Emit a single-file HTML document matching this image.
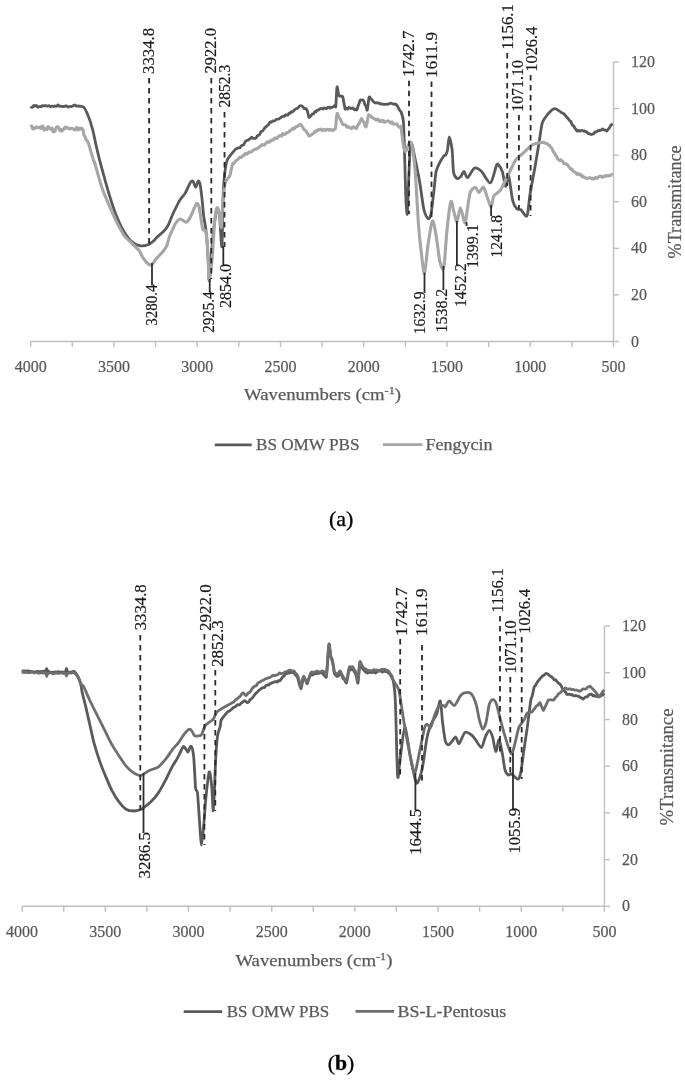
<!DOCTYPE html>
<html><head><meta charset="utf-8"><style>
html,body{margin:0;padding:0;background:#fff;}
body{width:685px;height:1080px;overflow:hidden;position:relative;}
svg{position:absolute;left:0;top:0;filter:blur(0.7px);}
.ax{font-family:"Liberation Serif",serif;font-size:17.5px;fill:#595959;stroke:#595959;stroke-width:0.25px;}
.yl{font-size:18.5px;}
.lbs{font-family:"Liberation Sans",sans-serif;font-size:14px;fill:#222;}
.lbr{font-family:"Liberation Serif",serif;font-size:16.5px;fill:#1a1a1a;stroke:#1a1a1a;stroke-width:0.2px;}
.leg{font-family:"Liberation Serif",serif;font-size:16px;fill:#595959;stroke:#595959;stroke-width:0.25px;}
.ttl{font-family:"Liberation Serif",serif;font-size:17px;fill:#595959;stroke:#595959;stroke-width:0.25px;}
.cap{font-family:"Liberation Serif",serif;font-size:21px;fill:#000;stroke:#000;stroke-width:0.3px;}
</style></head><body>
<svg width="685" height="1080" viewBox="0 0 685 1080">
<line x1="30.7" y1="341.5" x2="613.5" y2="341.5" stroke="#bfbfbf" stroke-width="1.4"/>
<line x1="30.7" y1="341.5" x2="30.7" y2="347.0" stroke="#bfbfbf" stroke-width="1.4"/>
<line x1="72.3" y1="341.5" x2="72.3" y2="347.0" stroke="#bfbfbf" stroke-width="1.4"/>
<line x1="114.0" y1="341.5" x2="114.0" y2="347.0" stroke="#bfbfbf" stroke-width="1.4"/>
<line x1="155.6" y1="341.5" x2="155.6" y2="347.0" stroke="#bfbfbf" stroke-width="1.4"/>
<line x1="197.2" y1="341.5" x2="197.2" y2="347.0" stroke="#bfbfbf" stroke-width="1.4"/>
<line x1="238.8" y1="341.5" x2="238.8" y2="347.0" stroke="#bfbfbf" stroke-width="1.4"/>
<line x1="280.5" y1="341.5" x2="280.5" y2="347.0" stroke="#bfbfbf" stroke-width="1.4"/>
<line x1="322.1" y1="341.5" x2="322.1" y2="347.0" stroke="#bfbfbf" stroke-width="1.4"/>
<line x1="363.7" y1="341.5" x2="363.7" y2="347.0" stroke="#bfbfbf" stroke-width="1.4"/>
<line x1="405.4" y1="341.5" x2="405.4" y2="347.0" stroke="#bfbfbf" stroke-width="1.4"/>
<line x1="447.0" y1="341.5" x2="447.0" y2="347.0" stroke="#bfbfbf" stroke-width="1.4"/>
<line x1="488.6" y1="341.5" x2="488.6" y2="347.0" stroke="#bfbfbf" stroke-width="1.4"/>
<line x1="530.2" y1="341.5" x2="530.2" y2="347.0" stroke="#bfbfbf" stroke-width="1.4"/>
<line x1="571.9" y1="341.5" x2="571.9" y2="347.0" stroke="#bfbfbf" stroke-width="1.4"/>
<line x1="613.5" y1="341.5" x2="613.5" y2="347.0" stroke="#bfbfbf" stroke-width="1.4"/>
<text x="30.7" y="371.5" text-anchor="middle" class="ax" textLength="32" lengthAdjust="spacingAndGlyphs">4000</text>
<text x="114.0" y="371.5" text-anchor="middle" class="ax" textLength="32" lengthAdjust="spacingAndGlyphs">3500</text>
<text x="197.2" y="371.5" text-anchor="middle" class="ax" textLength="32" lengthAdjust="spacingAndGlyphs">3000</text>
<text x="280.5" y="371.5" text-anchor="middle" class="ax" textLength="32" lengthAdjust="spacingAndGlyphs">2500</text>
<text x="363.7" y="371.5" text-anchor="middle" class="ax" textLength="32" lengthAdjust="spacingAndGlyphs">2000</text>
<text x="447.0" y="371.5" text-anchor="middle" class="ax" textLength="32" lengthAdjust="spacingAndGlyphs">1500</text>
<text x="530.2" y="371.5" text-anchor="middle" class="ax" textLength="32" lengthAdjust="spacingAndGlyphs">1000</text>
<text x="613.5" y="371.5" text-anchor="middle" class="ax" textLength="24" lengthAdjust="spacingAndGlyphs">500</text>
<line x1="613.5" y1="61.9" x2="613.5" y2="341.5" stroke="#bfbfbf" stroke-width="1.4"/>
<line x1="613.5" y1="341.5" x2="619.0" y2="341.5" stroke="#bfbfbf" stroke-width="1.4"/>
<text x="631" y="346.5" class="ax" textLength="8" lengthAdjust="spacingAndGlyphs">0</text>
<line x1="613.5" y1="294.9" x2="619.0" y2="294.9" stroke="#bfbfbf" stroke-width="1.4"/>
<text x="631" y="299.9" class="ax" textLength="16" lengthAdjust="spacingAndGlyphs">20</text>
<line x1="613.5" y1="248.3" x2="619.0" y2="248.3" stroke="#bfbfbf" stroke-width="1.4"/>
<text x="631" y="253.3" class="ax" textLength="16" lengthAdjust="spacingAndGlyphs">40</text>
<line x1="613.5" y1="201.7" x2="619.0" y2="201.7" stroke="#bfbfbf" stroke-width="1.4"/>
<text x="631" y="206.7" class="ax" textLength="16" lengthAdjust="spacingAndGlyphs">60</text>
<line x1="613.5" y1="155.1" x2="619.0" y2="155.1" stroke="#bfbfbf" stroke-width="1.4"/>
<text x="631" y="160.1" class="ax" textLength="16" lengthAdjust="spacingAndGlyphs">80</text>
<line x1="613.5" y1="108.5" x2="619.0" y2="108.5" stroke="#bfbfbf" stroke-width="1.4"/>
<text x="631" y="113.5" class="ax" textLength="24" lengthAdjust="spacingAndGlyphs">100</text>
<line x1="613.5" y1="61.9" x2="619.0" y2="61.9" stroke="#bfbfbf" stroke-width="1.4"/>
<text x="631" y="66.9" class="ax" textLength="24" lengthAdjust="spacingAndGlyphs">120</text>
<text transform="translate(680.8,201.9) rotate(-90)" text-anchor="middle" class="ax yl" textLength="113" lengthAdjust="spacingAndGlyphs">%Transmitance</text>
<path d="M30.5,106.5 C30.6,106.6 31.3,107.1 31.6,107.2 C31.9,107.3 32.5,107.4 32.8,107.1 C33.1,106.8 33.6,105.4 33.9,105.3 C34.2,105.2 34.7,106.0 35.0,106.0 C35.3,106.0 35.9,105.3 36.2,105.4 C36.5,105.5 37.2,106.7 37.5,106.9 C37.8,107.1 38.5,106.9 38.8,106.8 C39.1,106.7 39.7,106.5 40.0,106.5 C40.3,106.5 40.9,106.7 41.2,106.6 C41.5,106.5 42.2,105.8 42.5,105.7 C42.8,105.6 43.5,105.9 43.8,105.9 C44.1,105.9 44.7,105.5 45.0,105.5 C45.3,105.5 45.9,105.8 46.2,105.9 C46.5,106.0 47.2,106.1 47.5,106.1 C47.8,106.1 48.5,105.5 48.8,105.6 C49.1,105.7 49.7,106.4 50.0,106.5 C50.3,106.6 50.9,106.4 51.2,106.3 C51.5,106.2 52.2,106.1 52.5,106.1 C52.8,106.1 53.5,106.5 53.8,106.5 C54.1,106.5 54.6,106.0 55.0,106.0 C55.4,106.0 56.1,106.5 56.5,106.4 C56.9,106.3 57.6,105.0 58.0,105.0 C58.4,105.0 58.9,106.2 59.3,106.3 C59.7,106.4 60.3,106.1 60.7,106.1 C61.1,106.1 61.7,106.4 62.0,106.5 C62.3,106.6 62.9,106.5 63.2,106.5 C63.5,106.5 64.1,106.4 64.4,106.3 C64.7,106.2 65.3,106.0 65.6,106.0 C65.9,106.0 66.5,105.9 66.8,106.0 C67.1,106.1 67.7,106.9 68.0,107.0 C68.3,107.1 68.9,106.9 69.3,106.8 C69.7,106.7 70.3,106.3 70.7,106.3 C71.1,106.3 71.6,106.6 72.0,106.5 C72.4,106.4 73.1,105.7 73.5,105.5 C73.9,105.3 74.6,104.9 75.0,105.0 C75.4,105.1 76.1,106.1 76.5,106.2 C76.9,106.3 77.6,106.0 78.0,106.0 C78.4,106.0 78.9,106.1 79.3,106.2 C79.7,106.3 80.3,106.4 80.7,106.4 C81.1,106.4 81.5,106.3 82.0,106.5 C82.5,106.7 83.7,107.1 84.4,108.0 C85.1,108.9 86.2,111.1 87.0,113.0 C87.8,114.9 89.6,119.3 90.4,121.9 C91.2,124.5 92.6,129.1 93.3,132.2 C94.0,135.3 95.2,141.4 96.0,145.0 C96.8,148.6 98.3,154.9 99.3,158.9 C100.3,162.9 102.3,170.3 103.7,175.2 C105.1,180.1 108.0,190.8 109.6,195.9 C111.2,201.0 113.8,209.2 115.6,213.7 C117.4,218.2 121.0,226.4 123.0,230.0 C125.0,233.6 128.2,238.3 130.4,240.4 C132.6,242.5 136.9,245.0 139.3,245.6 C141.7,246.2 146.1,245.5 148.1,244.8 C150.1,244.1 152.9,241.5 154.1,240.4 C155.3,239.3 156.1,237.9 157.4,236.7 C158.7,235.5 162.4,232.7 163.9,231.1 C165.4,229.5 167.3,226.9 168.5,224.6 C169.7,222.3 171.6,216.7 173.1,213.5 C174.6,210.3 178.0,203.3 179.6,200.6 C181.2,197.9 183.7,195.6 185.2,193.1 C186.7,190.6 189.6,183.5 190.7,182.0 C191.8,180.5 192.4,180.9 193.1,181.6 C193.8,182.3 195.1,187.2 195.8,187.1 C196.5,187.0 197.5,181.5 198.1,181.1 C198.7,180.7 199.5,181.7 200.0,183.9 C200.5,186.1 201.4,193.5 201.9,197.8 C202.4,202.1 203.2,212.4 203.7,216.3 C204.2,220.2 205.2,224.3 205.6,227.4 C206.0,230.5 206.5,234.7 206.9,239.4 C207.3,244.1 208.0,257.1 208.3,262.6 C208.6,268.1 208.8,282.1 209.3,280.5 C209.8,278.9 211.1,257.7 211.7,250.4 C212.3,243.1 213.4,231.4 214.1,226.0 C214.8,220.6 216.3,211.5 217.0,210.0 C217.7,208.5 218.8,210.1 219.5,215.0 C220.2,219.9 221.4,249.2 221.9,246.7 C222.4,244.2 222.7,206.1 223.1,196.1 C223.5,186.1 224.3,176.8 224.9,172.0 C225.5,167.2 226.0,163.0 227.3,160.0 C228.6,157.0 233.8,151.3 235.0,149.8 C236.2,148.3 235.9,149.1 236.2,148.9 C236.5,148.7 237.2,148.1 237.5,148.0 C237.8,147.9 238.5,147.9 238.8,147.9 C239.1,147.9 239.7,148.0 240.0,147.7 C240.3,147.4 240.8,146.2 241.1,145.9 C241.4,145.6 241.9,145.4 242.2,145.3 C242.5,145.2 243.0,145.2 243.3,144.9 C243.6,144.6 244.2,143.7 244.5,143.2 C244.8,142.7 245.3,141.6 245.6,141.2 C245.9,140.8 246.4,140.6 246.7,140.5 C247.0,140.4 247.6,140.5 247.9,140.3 C248.2,140.1 248.9,139.6 249.2,139.3 C249.5,139.0 250.1,138.7 250.4,138.4 C250.7,138.1 251.4,137.2 251.7,137.2 C252.0,137.2 252.6,138.1 252.9,138.3 C253.2,138.5 253.7,138.4 254.0,138.4 C254.3,138.4 254.9,138.5 255.2,138.4 C255.5,138.3 256.1,138.0 256.4,137.6 C256.7,137.2 257.2,135.9 257.5,135.6 C257.8,135.3 258.4,135.6 258.7,135.4 C259.0,135.2 259.6,134.6 259.9,134.1 C260.2,133.6 260.7,132.0 261.0,131.6 C261.3,131.2 261.9,131.4 262.2,131.2 C262.5,131.0 263.1,130.3 263.4,129.9 C263.7,129.5 264.3,128.6 264.6,128.2 C264.9,127.8 265.4,127.4 265.7,127.1 C266.0,126.8 266.6,126.1 266.9,125.8 C267.2,125.5 267.8,125.5 268.1,125.2 C268.4,124.9 268.9,123.7 269.2,123.3 C269.5,122.9 270.1,122.2 270.4,122.0 C270.7,121.8 271.3,122.2 271.6,122.0 C271.9,121.8 272.4,120.9 272.7,120.8 C273.0,120.7 273.6,121.1 273.9,121.1 C274.2,121.1 274.8,120.8 275.1,120.6 C275.4,120.4 275.9,119.6 276.2,119.4 C276.5,119.2 277.1,119.1 277.4,119.1 C277.7,119.1 278.2,119.3 278.5,119.2 C278.8,119.1 279.4,118.6 279.7,118.4 C280.0,118.2 280.6,117.7 280.9,117.5 C281.2,117.3 281.7,116.8 282.0,116.6 C282.3,116.4 282.9,116.2 283.2,116.2 C283.5,116.2 284.1,116.5 284.4,116.3 C284.7,116.1 285.2,115.2 285.5,115.0 C285.8,114.8 286.4,115.0 286.7,115.0 C287.0,115.0 287.6,115.2 287.9,114.9 C288.2,114.6 288.7,113.3 289.0,113.1 C289.3,112.9 289.9,113.5 290.2,113.3 C290.5,113.1 291.1,111.8 291.4,111.6 C291.7,111.4 292.2,112.0 292.5,111.9 C292.8,111.8 293.4,111.0 293.7,110.7 C294.0,110.4 294.6,109.9 294.9,109.6 C295.2,109.3 295.7,109.0 296.0,108.8 C296.3,108.6 296.9,108.5 297.2,108.3 C297.5,108.1 298.1,107.7 298.4,107.4 C298.7,107.1 299.2,106.4 299.5,106.2 C299.8,106.0 300.4,105.7 300.7,105.7 C301.0,105.7 301.6,105.7 301.9,105.9 C302.2,106.1 302.8,106.8 303.1,107.1 C303.4,107.4 303.9,108.3 304.2,108.5 C304.5,108.7 305.1,108.6 305.4,108.7 C305.7,108.8 306.3,108.7 306.6,109.2 C306.9,109.7 307.5,111.5 307.8,112.6 C308.1,113.7 308.6,116.9 308.9,117.4 C309.2,117.9 309.8,117.0 310.1,116.7 C310.4,116.4 310.9,115.8 311.2,115.4 C311.5,115.0 312.1,114.1 312.4,113.9 C312.7,113.7 313.3,114.1 313.6,113.8 C313.9,113.5 314.4,112.1 314.7,111.8 C315.0,111.5 315.6,112.1 315.9,111.9 C316.2,111.7 316.8,110.3 317.1,110.1 C317.4,109.9 317.9,110.3 318.2,110.2 C318.5,110.1 319.1,109.4 319.4,109.2 C319.7,109.0 320.3,108.7 320.6,108.6 C320.9,108.5 321.4,108.3 321.7,108.4 C322.0,108.5 322.6,109.3 322.9,109.2 C323.2,109.1 323.8,107.9 324.1,107.8 C324.4,107.7 324.9,108.2 325.2,108.3 C325.5,108.4 326.1,108.7 326.4,108.6 C326.7,108.5 327.3,107.7 327.6,107.5 C327.9,107.3 328.4,107.1 328.7,107.2 C329.0,107.3 329.6,108.1 329.9,108.1 C330.2,108.1 330.8,107.3 331.1,107.2 C331.4,107.1 331.9,107.4 332.2,107.4 C332.5,107.4 333.1,107.1 333.4,106.9 C333.7,106.7 334.3,105.8 334.6,105.7 C334.9,105.6 335.5,108.5 335.8,106.0 C336.1,103.5 336.6,88.6 337.0,87.0 C337.4,85.4 338.2,92.8 338.5,94.0 C338.8,95.2 339.0,95.7 339.3,96.0 C339.6,96.3 340.2,96.1 340.5,96.1 C340.8,96.1 341.3,96.0 341.6,96.1 C341.9,96.2 342.5,96.0 342.8,97.0 C343.1,98.0 343.7,101.7 344.0,103.3 C344.3,104.9 344.8,108.4 345.1,109.0 C345.4,109.6 346.0,108.1 346.3,108.1 C346.6,108.1 347.3,109.3 347.6,109.2 C347.9,109.1 348.5,107.7 348.8,107.5 C349.1,107.3 349.7,107.8 350.0,108.0 C350.3,108.2 350.8,108.7 351.1,108.7 C351.4,108.7 352.0,107.9 352.3,107.9 C352.6,107.9 353.1,108.3 353.4,108.6 C353.7,108.9 354.2,109.7 354.5,109.8 C354.8,109.9 355.4,109.1 355.7,109.1 C356.0,109.1 356.5,110.4 356.8,110.0 C357.1,109.6 357.7,107.1 358.0,106.2 C358.3,105.3 358.8,104.4 359.1,103.6 C359.4,102.8 360.0,100.5 360.3,100.0 C360.6,99.5 361.2,100.2 361.5,100.2 C361.8,100.2 362.3,99.8 362.6,99.9 C362.9,100.0 363.5,100.3 363.8,101.0 C364.1,101.7 364.7,104.1 365.0,104.8 C365.3,105.5 365.8,105.7 366.1,106.4 C366.4,107.1 366.9,111.2 367.3,110.0 C367.7,108.8 368.6,99.1 369.0,97.5 C369.4,95.9 370.0,97.6 370.3,97.9 C370.6,98.2 371.3,99.1 371.6,99.5 C371.9,99.9 372.6,100.6 372.9,101.0 C373.2,101.4 373.9,102.0 374.2,102.3 C374.5,102.6 375.2,103.0 375.5,103.0 C375.8,103.0 376.4,102.6 376.7,102.6 C377.0,102.6 377.6,103.1 377.9,103.2 C378.2,103.3 378.7,102.9 379.0,103.0 C379.3,103.1 379.9,103.9 380.2,104.0 C380.5,104.1 381.1,103.9 381.4,103.9 C381.7,103.9 382.2,104.3 382.5,104.3 C382.8,104.3 383.4,104.2 383.7,104.2 C384.0,104.2 384.5,104.4 384.8,104.4 C385.1,104.4 385.7,104.2 386.0,104.2 C386.3,104.2 386.9,104.3 387.2,104.3 C387.5,104.3 388.0,104.1 388.3,104.0 C388.6,103.9 389.2,103.7 389.5,103.6 C389.8,103.5 390.3,103.1 390.6,103.1 C390.9,103.1 391.5,103.4 391.8,103.5 C392.1,103.6 392.8,104.0 393.2,104.1 C393.6,104.2 394.2,103.8 394.6,103.9 C395.0,104.0 395.7,104.3 396.0,104.5 C396.3,104.7 396.9,105.2 397.2,105.7 C397.5,106.2 398.2,107.4 398.5,108.1 C398.8,108.8 399.5,110.1 399.8,110.6 C400.1,111.1 400.5,110.4 401.0,111.9 C401.5,113.4 402.9,115.8 403.4,121.5 C403.9,127.2 404.3,144.9 404.6,155.0 C404.9,165.1 405.5,189.1 405.8,197.0 C406.1,204.9 406.9,215.2 407.2,214.3 C407.5,213.4 408.0,196.6 408.3,190.0 C408.6,183.4 409.0,170.6 409.3,165.0 C409.6,159.4 410.0,151.0 410.2,148.0 C410.4,145.0 410.7,142.8 411.0,142.5 C411.3,142.2 412.0,144.2 412.5,146.0 C413.0,147.8 413.9,153.1 414.5,156.0 C415.1,158.9 416.3,164.3 417.0,168.0 C417.7,171.7 419.1,178.5 420.0,184.0 C420.9,189.5 422.8,204.9 423.9,209.5 C425.0,214.1 427.2,217.9 428.1,218.5 C429.0,219.1 430.2,217.8 431.0,214.0 C431.8,210.2 433.3,195.6 434.0,190.0 C434.7,184.4 435.3,175.6 436.0,172.0 C436.7,168.4 438.5,165.0 439.6,162.8 C440.7,160.6 443.2,156.9 444.0,155.8 C444.8,154.7 445.2,155.7 445.7,154.9 C446.2,154.1 447.0,152.4 447.5,150.0 C448.0,147.6 448.6,137.0 449.2,137.0 C449.8,137.0 451.5,145.1 452.1,149.8 C452.7,154.5 452.9,168.6 453.6,172.4 C454.3,176.2 456.2,177.9 457.1,178.5 C458.0,179.1 459.7,177.7 460.6,176.8 C461.5,175.9 463.2,171.4 464.1,171.5 C465.0,171.6 466.2,178.2 467.6,177.7 C469.0,177.2 472.7,168.8 474.6,168.0 C476.5,167.2 479.5,169.5 481.6,171.5 C483.7,173.5 488.4,183.7 490.4,182.9 C492.4,182.1 495.4,167.8 496.5,165.4 C497.6,163.0 497.6,163.9 498.4,164.8 C499.2,165.7 501.6,169.1 502.5,172.0 C503.4,174.9 504.7,185.8 505.5,186.3 C506.3,186.8 507.6,174.1 508.6,176.0 C509.6,177.9 511.6,196.2 512.7,200.6 C513.8,205.0 515.7,207.6 516.8,208.8 C517.9,210.0 519.5,208.9 520.9,209.8 C522.3,210.7 525.8,218.0 527.0,215.9 C528.2,213.8 528.9,201.1 530.0,194.4 C531.1,187.7 534.0,172.9 535.2,165.8 C536.4,158.7 538.4,147.0 539.3,141.3 C540.2,135.6 541.2,126.4 542.3,122.9 C543.4,119.4 545.8,116.6 547.4,114.7 C549.0,112.8 552.7,108.9 554.6,108.6 C556.5,108.3 560.5,112.1 561.7,112.7 C562.9,113.3 563.0,113.0 563.4,113.3 C563.8,113.6 564.6,114.6 565.0,115.0 C565.4,115.4 565.9,116.2 566.2,116.6 C566.5,117.0 567.2,117.4 567.5,117.8 C567.8,118.2 568.4,119.0 568.7,119.4 C569.0,119.8 569.6,120.6 569.9,120.9 C570.2,121.2 570.8,121.5 571.1,122.0 C571.4,122.5 572.0,124.5 572.3,125.0 C572.6,125.5 573.2,125.2 573.5,125.6 C573.8,126.0 574.4,127.4 574.7,127.9 C575.0,128.4 575.6,128.9 575.9,129.3 C576.2,129.7 576.8,131.0 577.1,131.1 C577.4,131.2 578.0,130.3 578.3,130.3 C578.6,130.3 579.2,131.2 579.5,131.2 C579.8,131.2 580.3,130.6 580.6,130.5 C580.9,130.4 581.5,130.2 581.8,130.3 C582.1,130.4 582.7,130.9 583.0,131.0 C583.3,131.1 583.9,130.7 584.2,130.8 C584.5,130.9 585.2,131.3 585.5,131.5 C585.8,131.7 586.4,131.8 586.7,132.0 C587.0,132.2 587.6,133.1 587.9,133.3 C588.2,133.5 588.9,133.6 589.2,133.7 C589.5,133.8 590.1,134.1 590.4,134.2 C590.7,134.3 591.2,134.5 591.5,134.5 C591.8,134.5 592.3,134.1 592.6,134.0 C592.9,133.9 593.5,134.0 593.8,133.7 C594.1,133.4 594.6,132.2 594.9,132.0 C595.2,131.8 595.7,132.1 596.0,132.0 C596.3,131.9 596.8,131.6 597.1,131.4 C597.4,131.2 597.9,130.7 598.2,130.6 C598.5,130.5 599.0,130.7 599.3,130.6 C599.6,130.5 600.1,130.3 600.4,130.2 C600.7,130.1 601.2,130.2 601.5,130.0 C601.8,129.8 602.3,129.0 602.6,129.0 C602.9,129.0 603.6,129.9 604.0,130.0 C604.4,130.1 604.9,129.9 605.3,130.0 C605.7,130.1 606.4,131.2 606.7,131.1 C607.0,131.0 607.6,129.9 607.9,129.5 C608.2,129.1 608.8,128.8 609.1,128.3 C609.4,127.8 610.1,126.5 610.4,126.0 C610.7,125.5 611.3,124.9 611.6,124.6 C611.9,124.3 612.6,124.0 612.8,123.9" fill="none" stroke="#595959" stroke-width="2.8" stroke-linejoin="round"/>
<path d="M30.5,127.0 C30.6,126.9 31.3,125.7 31.6,125.9 C31.9,126.1 32.5,128.4 32.8,128.8 C33.1,129.2 33.6,128.8 33.9,128.7 C34.2,128.6 34.7,128.2 35.0,128.0 C35.3,127.8 35.7,127.0 36.0,126.9 C36.3,126.8 36.7,127.6 37.0,127.6 C37.3,127.6 37.7,127.2 38.0,127.2 C38.3,127.2 38.7,127.7 39.0,127.7 C39.3,127.7 39.7,126.9 40.0,127.0 C40.3,127.1 40.7,128.5 41.0,128.4 C41.3,128.3 41.7,126.6 42.0,126.3 C42.3,126.0 42.7,126.0 43.0,126.5 C43.3,127.0 43.7,129.5 44.0,129.8 C44.3,130.1 44.7,129.2 45.0,129.0 C45.3,128.8 45.7,128.5 46.0,128.6 C46.3,128.7 46.7,129.8 47.0,129.5 C47.3,129.2 47.7,126.8 48.0,126.6 C48.3,126.4 48.7,127.8 49.0,128.0 C49.3,128.2 49.7,127.8 50.0,128.0 C50.3,128.2 50.7,129.4 51.0,129.4 C51.3,129.4 51.7,127.9 52.0,128.2 C52.3,128.5 52.7,130.9 53.0,131.4 C53.3,131.9 53.7,131.9 54.0,131.8 C54.3,131.7 54.7,131.5 55.0,131.0 C55.3,130.5 55.7,128.6 56.0,128.0 C56.3,127.4 56.7,126.7 57.0,126.6 C57.3,126.5 57.7,126.8 58.0,127.0 C58.3,127.2 58.7,127.6 59.0,128.1 C59.3,128.6 59.7,130.4 60.0,130.6 C60.3,130.8 60.7,129.5 61.0,129.6 C61.3,129.7 61.7,131.1 62.0,131.0 C62.3,130.9 62.7,129.4 63.0,129.2 C63.3,129.0 63.7,129.5 64.0,129.2 C64.3,128.9 64.7,127.3 65.0,127.1 C65.3,126.9 65.7,128.0 66.0,128.0 C66.3,128.0 66.7,127.2 67.0,127.2 C67.3,127.2 67.7,128.1 68.0,128.3 C68.3,128.5 68.7,128.6 69.0,128.7 C69.3,128.8 69.7,129.1 70.0,129.0 C70.3,128.9 70.7,128.3 71.0,128.2 C71.3,128.1 71.7,128.3 72.0,128.4 C72.3,128.5 72.7,128.4 73.0,128.6 C73.3,128.8 73.7,129.5 74.0,129.7 C74.3,129.9 74.7,130.1 75.0,130.0 C75.3,129.9 75.7,129.1 76.0,128.8 C76.3,128.5 76.7,127.3 77.0,127.5 C77.3,127.7 77.7,129.9 78.0,130.0 C78.3,130.1 78.7,128.9 79.0,128.6 C79.3,128.3 79.7,127.9 80.0,128.0 C80.3,128.1 80.7,129.2 81.0,129.2 C81.3,129.2 81.7,128.1 82.0,128.2 C82.3,128.3 82.7,129.1 83.0,130.0 C83.3,130.9 83.7,134.2 84.0,135.1 C84.3,136.0 84.7,136.1 85.0,136.7 C85.3,137.3 85.9,139.2 86.2,139.8 C86.5,140.4 87.1,140.6 87.4,141.1 C87.7,141.6 88.1,142.5 88.4,143.2 C88.7,143.9 89.1,145.7 89.4,146.6 C89.7,147.5 90.1,149.0 90.4,150.0 C90.7,151.0 91.2,152.9 91.5,153.9 C91.8,154.9 92.3,156.3 92.6,157.2 C92.9,158.1 93.4,160.2 93.7,161.0 C94.0,161.8 93.7,159.6 94.8,163.3 C95.9,167.0 100.2,182.8 102.2,188.5 C104.2,194.2 107.6,201.8 109.6,206.3 C111.6,210.8 115.0,218.7 117.0,222.6 C119.0,226.5 122.4,233.1 124.4,235.9 C126.4,238.7 129.9,241.3 131.9,243.3 C133.9,245.3 137.8,248.8 139.3,250.7 C140.8,252.6 141.8,256.1 143.0,257.9 C144.2,259.7 147.1,263.1 148.3,264.0 C149.5,264.9 150.7,265.2 151.8,264.5 C152.9,263.8 154.7,260.5 156.2,258.8 C157.7,257.1 161.6,253.2 163.0,251.5 C164.4,249.8 165.8,247.9 166.7,245.9 C167.6,243.9 168.5,239.0 169.4,236.7 C170.3,234.4 172.2,230.2 173.1,228.3 C174.0,226.4 175.0,224.0 175.9,222.8 C176.8,221.6 178.7,219.5 179.6,219.1 C180.5,218.7 181.5,219.6 182.4,220.0 C183.3,220.4 185.1,222.6 186.1,222.3 C187.1,222.0 188.8,219.8 189.8,218.1 C190.8,216.4 192.6,211.8 193.5,209.8 C194.4,207.8 196.1,203.7 196.8,203.3 C197.5,202.9 198.6,205.0 199.1,207.0 C199.6,209.0 200.4,215.1 200.9,218.1 C201.4,221.1 202.2,227.6 202.8,229.3 C203.4,231.0 205.1,229.8 205.6,231.1 C206.1,232.4 206.6,236.0 206.9,239.4 C207.2,242.8 207.8,250.9 208.1,256.4 C208.4,261.9 208.7,280.5 209.3,280.5 C209.9,280.5 211.6,264.4 212.3,256.4 C213.0,248.4 214.1,226.7 214.7,220.2 C215.3,213.7 216.5,208.4 217.1,207.6 C217.7,206.8 218.9,211.5 219.5,214.2 C220.1,216.9 220.9,228.3 221.3,227.5 C221.7,226.7 222.0,214.0 222.5,208.2 C223.0,202.4 223.9,188.4 224.9,184.1 C225.9,179.8 229.0,177.6 229.8,175.7 C230.6,173.8 230.8,171.2 231.2,169.6 C231.6,168.0 232.4,164.6 232.7,163.8 C233.0,163.0 233.5,163.7 233.8,163.5 C234.1,163.3 234.6,162.6 234.9,162.2 C235.2,161.8 235.7,160.8 236.0,160.5 C236.3,160.2 236.8,160.3 237.1,160.1 C237.4,159.9 237.8,159.4 238.2,159.0 C238.6,158.6 239.6,157.3 240.0,157.1 C240.4,156.9 240.7,157.4 241.0,157.4 C241.3,157.4 241.7,157.0 242.0,156.8 C242.3,156.6 242.7,155.8 243.0,155.6 C243.3,155.4 243.7,155.6 244.0,155.3 C244.3,155.0 244.7,153.9 245.0,153.7 C245.3,153.5 245.7,153.5 246.0,153.6 C246.3,153.7 246.7,154.3 247.0,154.2 C247.3,154.1 247.7,153.2 248.0,152.9 C248.3,152.6 248.7,152.0 249.0,151.9 C249.3,151.8 249.7,152.2 250.0,152.2 C250.3,152.2 250.7,152.1 251.0,152.0 C251.3,151.9 251.7,151.6 252.0,151.4 C252.3,151.2 252.7,150.5 253.0,150.3 C253.3,150.1 253.7,150.2 254.0,150.1 C254.3,150.0 254.7,149.6 255.0,149.4 C255.3,149.2 255.8,149.0 256.1,148.9 C256.4,148.8 256.8,149.0 257.1,148.9 C257.4,148.8 257.8,148.1 258.1,147.8 C258.4,147.5 258.8,147.1 259.1,146.9 C259.4,146.7 259.8,146.9 260.1,146.6 C260.4,146.3 260.9,145.3 261.2,145.0 C261.5,144.7 261.9,144.5 262.2,144.5 C262.5,144.5 262.9,145.1 263.2,145.2 C263.5,145.3 263.9,145.4 264.2,145.2 C264.5,145.0 265.0,144.1 265.3,143.8 C265.6,143.5 266.0,143.1 266.3,142.8 C266.6,142.5 267.0,141.9 267.3,141.8 C267.6,141.7 268.0,141.8 268.3,141.9 C268.6,142.0 269.1,142.5 269.4,142.3 C269.7,142.1 270.1,140.9 270.4,140.7 C270.7,140.5 271.1,140.8 271.4,140.7 C271.7,140.6 272.1,139.9 272.4,139.8 C272.7,139.7 273.2,140.1 273.5,139.9 C273.8,139.7 274.2,138.3 274.5,138.1 C274.8,137.9 275.2,138.1 275.5,138.2 C275.8,138.3 276.2,138.7 276.5,138.6 C276.8,138.5 277.2,137.6 277.5,137.3 C277.8,137.0 278.2,136.8 278.5,136.6 C278.8,136.4 279.3,135.8 279.6,135.7 C279.9,135.6 280.3,135.7 280.6,135.7 C280.9,135.7 281.3,136.3 281.6,136.0 C281.9,135.7 282.3,133.8 282.6,133.6 C282.9,133.4 283.3,134.6 283.6,134.7 C283.9,134.8 284.4,134.4 284.7,134.3 C285.0,134.2 285.4,134.1 285.7,133.9 C286.0,133.7 286.4,132.8 286.7,132.6 C287.0,132.4 287.4,132.6 287.7,132.5 C288.0,132.4 288.4,132.2 288.7,132.0 C289.0,131.8 289.4,131.1 289.7,130.9 C290.0,130.7 290.4,130.6 290.7,130.4 C291.0,130.2 291.4,129.8 291.7,129.5 C292.0,129.2 292.4,128.2 292.7,128.2 C293.0,128.2 293.4,129.2 293.7,129.2 C294.0,129.2 294.4,128.4 294.7,128.1 C295.0,127.8 295.4,126.9 295.7,126.7 C296.0,126.5 296.4,126.9 296.7,126.8 C297.0,126.7 297.4,126.3 297.7,126.1 C298.0,125.9 298.4,125.5 298.7,125.3 C299.0,125.1 299.4,124.8 299.7,124.7 C300.0,124.6 300.4,124.2 300.7,124.4 C301.0,124.6 301.4,125.5 301.7,125.9 C302.0,126.3 302.5,127.1 302.8,127.5 C303.1,127.9 303.5,128.7 303.8,129.0 C304.1,129.3 304.5,129.9 304.8,130.1 C305.1,130.3 305.5,130.4 305.8,130.7 C306.1,131.0 306.5,132.2 306.8,132.6 C307.1,133.0 307.6,133.4 307.9,133.9 C308.2,134.4 308.6,135.8 308.9,136.0 C309.2,136.2 309.6,135.5 309.9,135.4 C310.2,135.3 310.6,135.4 310.9,135.3 C311.2,135.2 311.6,134.6 311.9,134.4 C312.2,134.2 312.6,133.9 312.9,133.7 C313.2,133.5 313.7,133.3 314.0,133.0 C314.3,132.7 314.7,131.4 315.0,131.2 C315.3,131.0 315.7,131.7 316.0,131.6 C316.3,131.5 316.7,130.3 317.0,130.2 C317.3,130.1 317.7,130.6 318.0,130.5 C318.3,130.4 318.8,129.6 319.1,129.4 C319.4,129.2 319.8,129.2 320.1,129.2 C320.4,129.2 320.8,129.0 321.1,129.2 C321.4,129.4 321.8,130.6 322.1,130.7 C322.4,130.8 322.8,129.9 323.1,129.7 C323.4,129.5 323.9,129.3 324.2,129.4 C324.5,129.5 324.9,130.3 325.2,130.4 C325.5,130.5 325.9,130.0 326.2,129.9 C326.5,129.8 326.9,129.4 327.2,129.3 C327.5,129.2 328.0,129.4 328.3,129.5 C328.6,129.6 329.0,130.3 329.3,130.3 C329.6,130.3 330.0,129.6 330.3,129.5 C330.6,129.4 331.0,129.6 331.3,129.7 C331.6,129.8 332.1,130.5 332.4,130.6 C332.7,130.7 333.1,130.4 333.4,130.2 C333.7,130.0 334.1,129.3 334.4,129.0 C334.7,128.7 335.2,130.0 335.5,128.0 C335.8,126.0 336.6,115.6 337.0,113.9 C337.4,112.2 337.9,115.1 338.2,115.6 C338.5,116.1 339.0,117.5 339.3,118.0 C339.6,118.5 340.2,118.7 340.5,119.2 C340.8,119.7 341.3,121.4 341.6,122.1 C341.9,122.8 342.5,124.1 342.8,124.4 C343.1,124.7 343.5,124.6 343.8,124.7 C344.1,124.8 344.5,124.7 344.8,124.8 C345.1,124.9 345.5,124.8 345.8,125.1 C346.1,125.4 346.5,127.0 346.8,127.2 C347.1,127.4 347.5,127.0 347.8,126.9 C348.1,126.8 348.5,126.7 348.8,126.8 C349.1,126.9 349.5,127.7 349.8,127.9 C350.1,128.1 350.5,128.0 350.8,128.1 C351.1,128.2 351.5,128.7 351.8,128.5 C352.1,128.3 352.5,127.1 352.8,126.9 C353.1,126.7 353.5,126.9 353.8,126.9 C354.1,126.9 354.5,127.0 354.8,127.2 C355.1,127.4 355.5,128.2 355.8,128.3 C356.1,128.4 356.5,128.4 356.8,127.9 C357.1,127.4 357.7,125.5 358.0,124.9 C358.3,124.3 358.8,124.1 359.1,123.6 C359.4,123.1 360.0,121.9 360.3,121.2 C360.6,120.5 361.2,118.6 361.5,118.5 C361.8,118.4 362.3,120.1 362.6,120.6 C362.9,121.1 363.5,121.3 363.8,122.0 C364.1,122.7 364.7,125.0 365.0,125.6 C365.3,126.2 365.8,127.3 366.1,126.7 C366.4,126.1 367.0,123.0 367.3,121.4 C367.6,119.8 368.2,115.8 368.5,115.0 C368.8,114.2 369.2,115.6 369.5,115.7 C369.8,115.8 370.2,115.6 370.5,115.8 C370.8,116.0 371.2,117.1 371.5,117.3 C371.8,117.5 372.2,117.3 372.5,117.5 C372.8,117.7 373.2,118.3 373.5,118.5 C373.8,118.7 374.2,118.5 374.5,118.7 C374.8,118.9 375.2,119.5 375.5,119.7 C375.8,119.9 376.2,120.2 376.5,120.1 C376.8,120.0 377.2,119.1 377.5,119.1 C377.8,119.1 378.2,119.5 378.5,119.8 C378.8,120.1 379.2,121.1 379.5,121.3 C379.8,121.5 380.2,121.4 380.5,121.3 C380.8,121.2 381.2,120.3 381.5,120.3 C381.8,120.3 382.2,121.6 382.5,121.6 C382.8,121.6 383.2,120.5 383.5,120.6 C383.8,120.7 384.2,121.9 384.5,122.1 C384.8,122.3 385.2,121.9 385.5,121.8 C385.8,121.7 386.2,121.4 386.5,121.3 C386.8,121.2 387.2,121.3 387.5,121.2 C387.8,121.1 388.2,120.8 388.5,120.9 C388.8,121.0 389.2,121.7 389.5,122.0 C389.8,122.3 390.3,123.1 390.6,123.1 C390.9,123.1 391.4,121.6 391.7,121.7 C392.0,121.8 392.5,123.3 392.8,123.6 C393.1,123.9 393.5,124.3 393.8,124.3 C394.1,124.3 394.6,123.8 394.9,123.8 C395.2,123.8 395.7,124.0 396.0,124.0 C396.3,124.0 396.7,123.7 397.0,124.0 C397.3,124.3 397.7,125.7 398.0,126.1 C398.3,126.5 398.7,126.9 399.0,127.0 C399.3,127.1 399.7,127.1 400.0,127.2 C400.3,127.3 400.5,124.6 401.0,127.5 C401.5,130.4 403.3,145.9 404.0,149.0 C404.7,152.1 405.5,151.4 406.0,151.0 C406.5,150.6 407.5,147.2 408.0,146.0 C408.5,144.8 409.5,142.1 410.0,142.0 C410.5,141.9 411.5,143.6 412.0,145.4 C412.5,147.2 413.2,151.2 413.7,155.8 C414.2,160.4 415.2,170.8 415.8,180.0 C416.4,189.2 417.8,215.7 418.5,225.0 C419.2,234.3 420.2,243.5 421.0,250.0 C421.8,256.5 423.6,274.3 424.5,273.6 C425.4,272.9 426.9,252.0 428.0,245.0 C429.1,238.0 431.3,222.3 432.4,221.0 C433.5,219.7 435.0,229.5 436.0,235.0 C437.0,240.5 439.0,257.7 440.0,262.0 C441.0,266.3 442.9,271.7 443.8,267.4 C444.7,263.1 446.1,238.7 447.0,230.0 C447.9,221.3 449.9,204.5 450.8,201.8 C451.7,199.1 452.7,207.3 453.5,210.0 C454.3,212.7 456.0,222.2 456.9,221.9 C457.8,221.6 459.3,207.8 460.4,207.9 C461.5,208.0 463.9,222.3 464.8,222.8 C465.7,223.3 466.3,216.0 467.0,212.0 C467.7,208.0 469.1,195.9 470.2,192.6 C471.3,189.3 474.3,187.3 475.5,187.3 C476.7,187.3 477.9,192.6 479.0,192.6 C480.1,192.6 482.2,186.3 483.4,187.3 C484.6,188.3 487.2,197.4 488.2,200.0 C489.2,202.6 490.4,207.1 491.2,206.6 C492.0,206.1 492.7,198.1 493.9,196.0 C495.1,193.9 498.9,192.1 500.0,190.8 C501.1,189.5 501.4,188.5 502.5,186.3 C503.6,184.1 506.8,177.5 508.6,174.0 C510.4,170.5 514.1,162.2 515.8,159.7 C517.5,157.2 519.5,156.4 521.0,155.0 C522.5,153.6 525.4,150.9 527.0,149.5 C528.6,148.1 530.9,145.4 533.1,144.4 C535.3,143.4 541.9,142.5 543.4,142.3 C544.9,142.1 544.1,142.7 544.4,142.8 C544.7,142.9 545.1,143.0 545.4,143.1 C545.7,143.2 546.2,143.5 546.5,143.6 C546.8,143.7 547.2,143.6 547.5,143.8 C547.8,144.0 548.2,145.0 548.5,145.2 C548.8,145.4 549.2,145.2 549.5,145.4 C549.8,145.6 550.2,146.5 550.5,146.9 C550.8,147.3 551.2,147.8 551.5,148.2 C551.8,148.6 552.3,149.2 552.6,149.7 C552.9,150.2 553.3,151.8 553.6,152.3 C553.9,152.8 554.3,152.9 554.6,153.3 C554.9,153.7 555.4,154.9 555.7,155.4 C556.0,155.9 556.4,156.3 556.7,156.7 C557.0,157.1 557.4,158.3 557.7,158.7 C558.0,159.1 558.4,159.7 558.7,160.0 C559.0,160.3 559.4,160.7 559.7,160.7 C560.0,160.7 560.4,159.7 560.7,159.7 C561.0,159.7 561.5,160.4 561.8,160.7 C562.1,161.0 562.5,161.2 562.8,161.6 C563.1,162.0 563.5,163.1 563.8,163.4 C564.1,163.7 564.5,163.6 564.8,163.7 C565.1,163.8 565.5,163.7 565.8,163.8 C566.1,163.9 566.5,164.2 566.8,164.4 C567.1,164.6 567.6,164.8 567.9,165.1 C568.2,165.4 568.6,166.5 568.9,166.9 C569.2,167.3 569.6,167.8 569.9,168.1 C570.2,168.4 570.7,169.1 571.0,169.2 C571.3,169.3 571.7,168.8 572.0,169.0 C572.3,169.2 572.7,170.6 573.0,170.9 C573.3,171.2 573.7,171.3 574.0,171.5 C574.3,171.7 574.8,171.9 575.1,172.1 C575.4,172.3 575.8,172.7 576.1,173.0 C576.4,173.3 576.8,174.3 577.1,174.4 C577.4,174.5 577.8,173.4 578.1,173.5 C578.4,173.6 578.9,174.8 579.2,174.9 C579.5,175.0 579.9,174.3 580.2,174.3 C580.5,174.3 580.9,174.7 581.2,175.0 C581.5,175.3 581.9,176.7 582.2,176.8 C582.5,176.9 582.9,176.0 583.2,176.1 C583.5,176.2 584.0,177.3 584.3,177.5 C584.6,177.7 585.0,177.7 585.3,177.8 C585.6,177.9 586.0,178.0 586.3,178.1 C586.6,178.2 587.0,178.7 587.3,178.7 C587.6,178.7 588.0,178.0 588.3,177.9 C588.6,177.8 589.1,177.8 589.4,177.8 C589.7,177.8 590.1,177.6 590.4,177.7 C590.7,177.8 591.1,178.7 591.4,178.8 C591.7,178.9 592.1,178.3 592.4,178.3 C592.7,178.3 593.1,178.8 593.4,178.9 C593.7,179.0 594.2,179.0 594.5,178.8 C594.8,178.6 595.2,177.5 595.5,177.4 C595.8,177.3 596.2,178.0 596.5,178.1 C596.8,178.2 597.3,178.1 597.6,177.9 C597.9,177.7 598.3,177.0 598.6,176.8 C598.9,176.6 599.4,176.5 599.7,176.4 C600.0,176.3 600.5,176.0 600.8,176.1 C601.1,176.2 601.6,177.2 601.9,177.3 C602.2,177.4 602.6,177.0 602.9,176.8 C603.2,176.6 603.7,176.0 604.0,176.0 C604.3,176.0 604.8,176.6 605.1,176.5 C605.4,176.4 605.9,175.6 606.2,175.5 C606.5,175.4 607.0,175.7 607.3,175.8 C607.6,175.9 608.1,176.1 608.4,176.0 C608.7,175.9 609.2,175.3 609.5,175.2 C609.8,175.1 610.3,175.5 610.6,175.4 C610.9,175.3 611.4,174.7 611.7,174.6 C612.0,174.5 612.7,174.9 612.8,175.0" fill="none" stroke="#a6a6a6" stroke-width="3.1" stroke-linejoin="round"/>
<line x1="149.1" y1="78" x2="149.1" y2="244" stroke="#2a2a2a" stroke-width="1.8" stroke-dasharray="5.5,4.5"/>
<line x1="211.3" y1="78" x2="211.3" y2="279" stroke="#2a2a2a" stroke-width="1.8" stroke-dasharray="5.5,4.5"/>
<line x1="224.5" y1="112" x2="224.5" y2="247" stroke="#2a2a2a" stroke-width="1.8" stroke-dasharray="5.5,4.5"/>
<line x1="409" y1="80.7" x2="409" y2="214" stroke="#2a2a2a" stroke-width="1.8" stroke-dasharray="5.5,4.5"/>
<line x1="431.5" y1="81.4" x2="431.5" y2="218" stroke="#2a2a2a" stroke-width="1.8" stroke-dasharray="5.5,4.5"/>
<line x1="507.2" y1="53" x2="507.2" y2="186" stroke="#2a2a2a" stroke-width="1.8" stroke-dasharray="5.5,4.5"/>
<line x1="518.9" y1="115" x2="518.9" y2="209" stroke="#2a2a2a" stroke-width="1.8" stroke-dasharray="5.5,4.5"/>
<line x1="530.6" y1="75" x2="530.6" y2="216" stroke="#2a2a2a" stroke-width="1.8" stroke-dasharray="5.5,4.5"/>
<line x1="152" y1="263" x2="152" y2="285.5" stroke="#2e2e2e" stroke-width="1.8"/>
<line x1="209.7" y1="279" x2="209.7" y2="292.5" stroke="#2e2e2e" stroke-width="1.8"/>
<line x1="223.3" y1="246" x2="223.3" y2="265.5" stroke="#2e2e2e" stroke-width="1.8"/>
<line x1="424.5" y1="272.6" x2="424.5" y2="293" stroke="#2e2e2e" stroke-width="1.8"/>
<line x1="443.4" y1="266" x2="443.4" y2="290" stroke="#2e2e2e" stroke-width="1.8"/>
<line x1="456.9" y1="221" x2="456.9" y2="265" stroke="#2e2e2e" stroke-width="1.8"/>
<line x1="466.6" y1="222" x2="466.6" y2="226" stroke="#2e2e2e" stroke-width="1.8"/>
<line x1="491.1" y1="205" x2="491.1" y2="216" stroke="#2e2e2e" stroke-width="1.8"/>
<text transform="translate(154.25,74.00) rotate(-90)" class="lbr" textLength="46.14" lengthAdjust="spacingAndGlyphs">3334.8</text>
<text transform="translate(216.04,73.43) rotate(-90)" class="lbr" textLength="45.46" lengthAdjust="spacingAndGlyphs">2922.0</text>
<text transform="translate(230.44,107.58) rotate(-90)" class="lbr" textLength="42.79" lengthAdjust="spacingAndGlyphs">2852.3</text>
<text transform="translate(414.25,76.99) rotate(-90)" class="lbr" textLength="46.47" lengthAdjust="spacingAndGlyphs">1742.7</text>
<text transform="translate(436.94,77.65) rotate(-90)" class="lbr" textLength="45.43" lengthAdjust="spacingAndGlyphs">1611.9</text>
<text transform="translate(512.85,49.66) rotate(-90)" class="lbr" textLength="45.55" lengthAdjust="spacingAndGlyphs">1156.1</text>
<text transform="translate(523.25,111.80) rotate(-90)" class="lbr" textLength="51.70" lengthAdjust="spacingAndGlyphs">1071.10</text>
<text transform="translate(537.05,71.85) rotate(-90)" class="lbr" textLength="45.31" lengthAdjust="spacingAndGlyphs">1026.4</text>
<text transform="translate(156.50,325.72) rotate(-90)" class="lbr" textLength="41.35" lengthAdjust="spacingAndGlyphs">3280.4</text>
<text transform="translate(213.89,332.86) rotate(-90)" class="lbr" textLength="41.29" lengthAdjust="spacingAndGlyphs">2925.4</text>
<text transform="translate(230.79,308.00) rotate(-90)" class="lbr" textLength="44.12" lengthAdjust="spacingAndGlyphs">2854.0</text>
<text transform="translate(425.39,334.26) rotate(-90)" class="lbr" textLength="42.70" lengthAdjust="spacingAndGlyphs">1632.9</text>
<text transform="translate(446.59,332.50) rotate(-90)" class="lbr" textLength="43.78" lengthAdjust="spacingAndGlyphs">1538.2</text>
<text transform="translate(465.69,307.10) rotate(-90)" class="lbr" textLength="43.78" lengthAdjust="spacingAndGlyphs">1452.2</text>
<text transform="translate(478.14,268.10) rotate(-90)" class="lbr" textLength="43.86" lengthAdjust="spacingAndGlyphs">1399.1</text>
<text transform="translate(502.25,257.56) rotate(-90)" class="lbr" textLength="42.55" lengthAdjust="spacingAndGlyphs">1241.8</text>
<text x="244" y="399.8" class="ttl" textLength="157" lengthAdjust="spacingAndGlyphs">Wavenumbers (cm<tspan dy="-6" font-size="11">-1</tspan><tspan dy="6">)</tspan></text>
<line x1="214.8" y1="444.8" x2="251.7" y2="444.8" stroke="#595959" stroke-width="2.8"/>
<text x="256" y="450.2" class="leg" textLength="103.5" lengthAdjust="spacingAndGlyphs">BS OMW PBS</text>
<line x1="383" y1="444.7" x2="422.4" y2="444.7" stroke="#a6a6a6" stroke-width="2.8"/>
<text x="425.5" y="450.2" class="leg" textLength="67" lengthAdjust="spacingAndGlyphs">Fengycin</text>
<text x="328.9" y="526.3" class="cap" textLength="24.5" lengthAdjust="spacingAndGlyphs">(a)</text>
<line x1="22.1" y1="906.3" x2="604.4" y2="906.3" stroke="#bfbfbf" stroke-width="1.4"/>
<line x1="22.1" y1="906.3" x2="22.1" y2="911.8" stroke="#bfbfbf" stroke-width="1.4"/>
<line x1="63.7" y1="906.3" x2="63.7" y2="911.8" stroke="#bfbfbf" stroke-width="1.4"/>
<line x1="105.3" y1="906.3" x2="105.3" y2="911.8" stroke="#bfbfbf" stroke-width="1.4"/>
<line x1="146.9" y1="906.3" x2="146.9" y2="911.8" stroke="#bfbfbf" stroke-width="1.4"/>
<line x1="188.5" y1="906.3" x2="188.5" y2="911.8" stroke="#bfbfbf" stroke-width="1.4"/>
<line x1="230.1" y1="906.3" x2="230.1" y2="911.8" stroke="#bfbfbf" stroke-width="1.4"/>
<line x1="271.7" y1="906.3" x2="271.7" y2="911.8" stroke="#bfbfbf" stroke-width="1.4"/>
<line x1="313.2" y1="906.3" x2="313.2" y2="911.8" stroke="#bfbfbf" stroke-width="1.4"/>
<line x1="354.8" y1="906.3" x2="354.8" y2="911.8" stroke="#bfbfbf" stroke-width="1.4"/>
<line x1="396.4" y1="906.3" x2="396.4" y2="911.8" stroke="#bfbfbf" stroke-width="1.4"/>
<line x1="438.0" y1="906.3" x2="438.0" y2="911.8" stroke="#bfbfbf" stroke-width="1.4"/>
<line x1="479.6" y1="906.3" x2="479.6" y2="911.8" stroke="#bfbfbf" stroke-width="1.4"/>
<line x1="521.2" y1="906.3" x2="521.2" y2="911.8" stroke="#bfbfbf" stroke-width="1.4"/>
<line x1="562.8" y1="906.3" x2="562.8" y2="911.8" stroke="#bfbfbf" stroke-width="1.4"/>
<line x1="604.4" y1="906.3" x2="604.4" y2="911.8" stroke="#bfbfbf" stroke-width="1.4"/>
<text x="22.1" y="937" text-anchor="middle" class="ax" textLength="32" lengthAdjust="spacingAndGlyphs">4000</text>
<text x="105.3" y="937" text-anchor="middle" class="ax" textLength="32" lengthAdjust="spacingAndGlyphs">3500</text>
<text x="188.5" y="937" text-anchor="middle" class="ax" textLength="32" lengthAdjust="spacingAndGlyphs">3000</text>
<text x="271.7" y="937" text-anchor="middle" class="ax" textLength="32" lengthAdjust="spacingAndGlyphs">2500</text>
<text x="354.8" y="937" text-anchor="middle" class="ax" textLength="32" lengthAdjust="spacingAndGlyphs">2000</text>
<text x="438.0" y="937" text-anchor="middle" class="ax" textLength="32" lengthAdjust="spacingAndGlyphs">1500</text>
<text x="521.2" y="937" text-anchor="middle" class="ax" textLength="32" lengthAdjust="spacingAndGlyphs">1000</text>
<text x="604.4" y="937" text-anchor="middle" class="ax" textLength="24" lengthAdjust="spacingAndGlyphs">500</text>
<line x1="604.4" y1="626.1" x2="604.4" y2="906.3" stroke="#bfbfbf" stroke-width="1.4"/>
<line x1="604.4" y1="906.3" x2="609.9" y2="906.3" stroke="#bfbfbf" stroke-width="1.4"/>
<text x="622" y="911.3" class="ax" textLength="8" lengthAdjust="spacingAndGlyphs">0</text>
<line x1="604.4" y1="859.6" x2="609.9" y2="859.6" stroke="#bfbfbf" stroke-width="1.4"/>
<text x="622" y="864.6" class="ax" textLength="16" lengthAdjust="spacingAndGlyphs">20</text>
<line x1="604.4" y1="812.9" x2="609.9" y2="812.9" stroke="#bfbfbf" stroke-width="1.4"/>
<text x="622" y="817.9" class="ax" textLength="16" lengthAdjust="spacingAndGlyphs">40</text>
<line x1="604.4" y1="766.2" x2="609.9" y2="766.2" stroke="#bfbfbf" stroke-width="1.4"/>
<text x="622" y="771.2" class="ax" textLength="16" lengthAdjust="spacingAndGlyphs">60</text>
<line x1="604.4" y1="719.5" x2="609.9" y2="719.5" stroke="#bfbfbf" stroke-width="1.4"/>
<text x="622" y="724.5" class="ax" textLength="16" lengthAdjust="spacingAndGlyphs">80</text>
<line x1="604.4" y1="672.8" x2="609.9" y2="672.8" stroke="#bfbfbf" stroke-width="1.4"/>
<text x="622" y="677.8" class="ax" textLength="24" lengthAdjust="spacingAndGlyphs">100</text>
<line x1="604.4" y1="626.1" x2="609.9" y2="626.1" stroke="#bfbfbf" stroke-width="1.4"/>
<text x="622" y="631.1" class="ax" textLength="24" lengthAdjust="spacingAndGlyphs">120</text>
<text transform="translate(672.5,767) rotate(-90)" text-anchor="middle" class="ax yl" textLength="117" lengthAdjust="spacingAndGlyphs">%Transmitance</text>
<path d="M21.7,671.2 C21.9,671.2 22.7,671.0 23.1,671.0 C23.5,671.0 24.1,670.9 24.5,670.9 C24.9,670.9 25.5,671.2 25.9,671.2 C26.3,671.2 26.8,671.0 27.2,671.0 C27.6,671.0 28.2,670.8 28.6,670.9 C29.0,671.0 29.6,671.3 30.0,671.4 C30.4,671.5 31.0,671.2 31.4,671.3 C31.8,671.4 32.5,671.8 32.9,671.9 C33.3,672.0 33.9,671.8 34.3,671.8 C34.7,671.8 35.3,671.9 35.7,671.8 C36.1,671.7 36.7,671.3 37.1,671.3 C37.5,671.3 38.2,671.6 38.6,671.6 C39.0,671.6 39.6,671.6 40.0,671.6 C40.4,671.6 41.0,671.4 41.4,671.4 C41.8,671.4 42.4,671.3 42.8,671.3 C43.2,671.3 43.7,671.2 44.1,671.2 C44.5,671.2 45.2,672.0 45.5,671.6 C45.8,671.2 46.4,668.3 46.7,668.3 C47.0,668.3 47.5,671.4 47.8,671.8 C48.1,672.2 48.8,671.5 49.2,671.6 C49.6,671.7 50.3,672.2 50.7,672.3 C51.1,672.4 51.7,672.2 52.1,672.2 C52.5,672.2 53.2,672.3 53.6,672.3 C54.0,672.3 54.6,672.0 55.0,672.0 C55.4,672.0 56.0,672.3 56.4,672.3 C56.8,672.3 57.4,671.8 57.8,671.7 C58.2,671.6 58.8,671.7 59.2,671.8 C59.6,671.9 60.2,672.1 60.6,672.1 C61.0,672.1 61.6,672.0 62.0,672.0 C62.4,672.0 63.3,672.1 63.8,672.1 C64.3,672.1 65.2,672.3 65.5,671.8 C65.8,671.3 66.1,668.5 66.4,668.5 C66.7,668.5 67.2,671.5 67.5,672.0 C67.8,672.5 68.6,672.3 69.0,672.3 C69.4,672.3 70.1,672.3 70.5,672.2 C70.9,672.1 71.6,671.9 72.0,671.8 C72.4,671.7 73.0,671.5 73.4,671.5 C73.8,671.5 74.1,671.2 74.8,672.0 C75.5,672.8 77.7,676.2 78.5,677.8 C79.3,679.4 80.2,681.7 80.7,683.7 C81.2,685.7 81.6,689.8 82.2,692.6 C82.8,695.4 84.2,700.3 85.2,704.4 C86.2,708.5 88.4,718.5 89.6,723.6 C90.8,728.7 92.6,737.8 94.0,742.9 C95.4,748.0 98.4,757.6 100.0,762.1 C101.6,766.6 104.3,773.1 105.9,776.9 C107.5,780.7 110.0,786.9 111.8,790.3 C113.6,793.7 117.2,799.5 119.2,802.1 C121.2,804.7 124.6,808.3 126.6,809.5 C128.6,810.7 132.1,811.0 134.0,811.0 C135.9,811.0 139.3,810.0 140.7,809.5 C142.1,809.0 143.2,808.1 144.6,807.0 C146.0,805.9 149.4,803.2 151.1,801.5 C152.8,799.8 156.0,796.3 157.6,794.1 C159.2,791.9 161.7,787.3 163.1,784.8 C164.5,782.3 166.6,778.1 167.8,775.6 C169.0,773.1 171.2,768.5 172.4,766.3 C173.6,764.1 175.9,760.9 177.0,758.9 C178.1,756.9 179.8,753.2 180.7,751.5 C181.6,749.8 182.8,746.7 183.5,746.4 C184.2,746.1 185.7,748.9 186.3,749.6 C186.9,750.3 187.5,752.3 188.1,751.9 C188.7,751.5 189.9,746.8 190.5,746.4 C191.1,746.0 191.9,747.3 192.3,748.7 C192.7,750.1 193.4,754.0 193.7,757.0 C194.0,760.0 194.3,766.7 194.6,770.9 C194.9,775.1 195.2,785.7 195.6,788.5 C196.0,791.3 197.0,790.2 197.4,792.2 C197.8,794.2 197.9,798.2 198.3,803.3 C198.7,808.4 199.7,824.6 200.1,830.2 C200.5,835.8 201.0,845.2 201.4,845.2 C201.8,845.2 202.7,836.5 203.3,830.2 C203.9,823.9 205.1,805.6 205.9,797.8 C206.7,790.0 208.4,773.3 209.2,771.9 C210.0,770.5 211.3,782.2 211.8,787.4 C212.3,792.6 212.8,810.3 213.1,810.8 C213.4,811.3 214.1,798.2 214.4,791.3 C214.7,784.4 215.3,766.3 215.7,758.9 C216.1,751.5 217.0,739.9 217.6,735.6 C218.2,731.3 219.7,728.6 220.2,726.5 C220.7,724.4 220.3,722.0 221.2,720.1 C222.1,718.2 226.3,713.4 227.3,712.2 C228.3,711.0 228.4,711.6 228.8,711.4 C229.2,711.2 229.8,710.7 230.2,710.4 C230.6,710.1 231.3,709.6 231.7,709.2 C232.1,708.8 232.8,707.9 233.2,707.6 C233.6,707.3 234.2,707.3 234.6,707.1 C235.0,706.9 235.7,706.4 236.1,706.1 C236.5,705.8 237.2,704.7 237.6,704.6 C238.0,704.5 238.6,705.1 239.0,705.0 C239.4,704.9 240.0,704.3 240.4,704.0 C240.8,703.7 241.5,702.9 241.9,702.6 C242.3,702.3 243.0,701.6 243.4,701.4 C243.8,701.2 244.3,700.6 244.8,700.8 C245.3,701.0 246.9,702.5 247.4,702.6 C247.9,702.7 248.4,702.1 248.8,701.7 C249.2,701.3 249.8,700.0 250.2,699.6 C250.6,699.2 251.3,698.9 251.7,698.6 C252.1,698.3 252.7,697.5 253.1,697.0 C253.5,696.5 254.1,695.4 254.5,694.9 C254.9,694.4 255.6,693.6 256.0,693.2 C256.4,692.8 257.0,692.4 257.4,692.0 C257.8,691.6 258.4,690.6 258.8,690.3 C259.2,690.0 259.8,689.7 260.2,689.4 C260.6,689.1 261.2,688.4 261.6,688.2 C262.0,688.0 262.6,687.7 263.0,687.6 C263.4,687.5 264.0,687.9 264.4,687.6 C264.8,687.3 265.5,686.0 265.9,685.6 C266.3,685.2 266.9,684.9 267.3,684.8 C267.7,684.7 268.3,685.2 268.7,685.0 C269.1,684.8 269.7,683.8 270.1,683.6 C270.5,683.4 271.1,683.4 271.5,683.2 C271.9,683.0 272.5,682.6 272.9,682.4 C273.3,682.2 273.9,682.1 274.3,682.0 C274.7,681.9 275.3,681.5 275.7,681.5 C276.1,681.5 276.7,682.3 277.1,682.2 C277.5,682.1 278.1,680.8 278.5,680.6 C278.9,680.4 279.5,680.9 279.9,680.7 C280.3,680.5 280.9,679.5 281.2,679.0 C281.5,678.5 282.2,677.5 282.5,677.1 C282.8,676.7 283.5,676.6 283.8,676.3 C284.1,676.0 284.7,674.9 285.1,674.5 C285.5,674.1 286.1,673.8 286.5,673.6 C286.9,673.4 287.5,673.2 287.8,673.1 C288.1,673.0 288.7,673.3 289.1,673.2 C289.5,673.1 290.1,672.3 290.5,672.2 C290.9,672.1 291.7,672.2 292.2,672.3 C292.7,672.4 293.5,672.6 294.0,673.0 C294.5,673.4 295.3,674.7 295.8,675.3 C296.3,675.9 297.0,676.3 297.5,677.4 C298.0,678.5 298.7,682.2 299.2,683.7 C299.7,685.2 300.6,688.9 301.0,688.8 C301.4,688.7 302.0,684.3 302.3,682.9 C302.6,681.5 303.2,678.7 303.6,678.3 C304.0,677.9 304.9,679.5 305.4,680.2 C305.9,680.9 306.7,683.8 307.2,683.6 C307.7,683.4 308.4,680.0 308.9,678.8 C309.4,677.6 310.3,675.3 310.7,674.8 C311.1,674.3 311.7,675.0 312.1,675.0 C312.5,675.0 313.1,674.7 313.5,674.5 C313.9,674.3 314.5,673.8 314.9,673.7 C315.3,673.6 316.0,673.7 316.4,673.6 C316.8,673.5 317.4,673.2 317.8,673.2 C318.2,673.2 318.8,673.5 319.2,673.4 C319.6,673.3 320.2,672.6 320.6,672.5 C321.0,672.4 321.6,672.7 322.0,673.0 C322.4,673.3 323.1,674.1 323.5,674.5 C323.9,674.9 324.5,675.7 324.9,676.0 C325.3,676.3 326.0,678.5 326.4,676.5 C326.8,674.5 327.4,665.3 327.7,661.0 C328.0,656.7 328.6,644.6 329.0,644.0 C329.4,643.4 330.3,653.8 330.8,656.3 C331.3,658.8 332.1,660.3 332.6,662.5 C333.1,664.7 333.9,671.3 334.3,673.0 C334.7,674.7 335.2,674.6 335.6,675.1 C336.0,675.6 336.6,676.4 337.0,676.5 C337.4,676.6 338.2,676.0 338.7,675.5 C339.2,675.0 340.0,673.1 340.4,673.0 C340.8,672.9 341.4,674.2 341.7,674.9 C342.0,675.6 342.6,677.6 343.0,678.3 C343.4,679.0 344.3,679.6 344.8,680.2 C345.3,680.8 346.0,684.1 346.6,682.7 C347.2,681.3 348.6,671.2 349.2,669.5 C349.8,667.8 350.4,669.9 350.9,669.8 C351.4,669.7 352.3,668.5 352.7,668.7 C353.1,668.9 353.7,670.7 354.0,671.3 C354.3,671.9 355.0,672.1 355.3,673.0 C355.6,673.9 356.2,676.4 356.6,677.7 C357.0,679.0 357.6,684.5 358.0,682.7 C358.4,680.9 359.3,666.4 359.7,664.3 C360.1,662.2 360.8,666.4 361.2,667.0 C361.6,667.6 362.2,668.1 362.6,668.6 C363.0,669.1 363.7,669.9 364.1,670.4 C364.5,670.9 365.4,671.9 365.9,672.2 C366.4,672.5 367.2,673.0 367.6,673.0 C368.0,673.0 368.5,672.6 368.9,672.5 C369.3,672.4 369.9,672.2 370.3,672.2 C370.7,672.2 371.2,672.5 371.6,672.5 C372.0,672.5 372.6,671.9 373.0,671.9 C373.4,671.9 373.9,672.1 374.3,672.2 C374.7,672.3 375.3,673.1 375.7,673.0 C376.1,672.9 376.6,672.0 377.0,671.8 C377.4,671.6 378.0,671.3 378.4,671.2 C378.8,671.1 379.3,671.1 379.7,671.1 C380.1,671.1 380.7,671.1 381.1,671.2 C381.5,671.3 382.0,672.0 382.4,672.0 C382.8,672.0 383.4,671.3 383.8,671.2 C384.2,671.1 384.7,671.2 385.1,671.3 C385.5,671.4 386.4,671.6 386.9,671.8 C387.4,672.0 388.1,672.6 388.6,673.0 C389.1,673.4 389.9,674.3 390.4,675.0 C390.9,675.7 391.7,677.4 392.1,678.3 C392.5,679.2 393.0,678.8 393.4,681.7 C393.8,684.6 394.7,687.5 395.3,700.0 C395.9,712.5 397.0,767.5 397.6,775.5 C398.2,783.5 399.0,766.4 400.0,760.0 C401.0,753.6 403.5,728.1 404.8,727.4 C406.1,726.7 408.6,748.1 410.0,755.0 C411.4,761.9 414.1,775.4 415.1,779.1 C416.1,782.8 416.5,784.1 417.5,782.7 C418.5,781.3 421.2,773.4 422.3,768.3 C423.4,763.2 425.1,749.0 425.9,744.2 C426.7,739.4 427.4,735.3 428.3,732.2 C429.2,729.1 431.4,723.7 432.5,721.3 C433.6,718.9 435.7,716.8 436.7,714.1 C437.7,711.4 439.5,699.8 440.3,700.9 C441.1,702.0 441.9,717.3 442.6,722.6 C443.3,727.9 444.5,738.0 445.3,741.0 C446.1,744.0 447.6,744.8 448.5,744.9 C449.4,745.0 450.8,742.7 451.8,741.6 C452.8,740.5 454.8,736.7 455.8,737.0 C456.8,737.3 457.9,744.2 459.1,743.6 C460.3,743.0 463.3,733.5 465.0,732.4 C466.7,731.3 470.1,734.0 471.5,735.0 C472.9,736.0 474.2,737.9 475.5,739.6 C476.8,741.3 480.1,747.8 481.4,747.5 C482.7,747.2 484.2,739.3 485.3,737.0 C486.4,734.7 488.3,730.4 489.3,730.4 C490.3,730.4 491.7,734.2 492.6,737.0 C493.5,739.8 494.9,751.2 495.8,751.5 C496.7,751.8 498.2,739.3 499.1,739.6 C500.0,739.9 501.6,750.1 502.4,754.1 C503.2,758.1 504.2,767.1 505.0,769.9 C505.8,772.7 507.4,774.6 508.3,775.1 C509.2,775.6 510.7,773.5 511.6,773.8 C512.5,774.1 514.0,776.4 514.9,777.1 C515.8,777.8 517.4,779.7 518.2,779.1 C519.0,778.5 520.0,776.5 520.8,772.5 C521.6,768.5 523.2,754.9 524.1,748.8 C525.0,742.7 526.5,732.8 527.4,726.5 C528.3,720.2 529.9,705.6 530.6,701.4 C531.3,697.2 531.9,697.0 532.4,695.1 C532.9,693.2 533.7,688.7 534.1,687.4 C534.5,686.1 535.3,685.7 535.7,685.0 C536.1,684.3 536.8,682.9 537.2,682.3 C537.6,681.7 538.4,680.9 538.8,680.4 C539.2,679.9 539.8,678.9 540.2,678.4 C540.6,677.9 541.2,677.4 541.6,677.0 C542.0,676.6 542.6,676.0 543.0,675.7 C543.4,675.4 544.0,675.3 544.4,675.0 C544.8,674.7 545.4,673.6 545.8,673.4 C546.2,673.2 546.8,673.6 547.2,673.8 C547.6,674.0 548.2,674.3 548.6,674.6 C549.0,674.9 549.6,675.8 550.0,676.1 C550.4,676.4 551.0,676.4 551.4,676.7 C551.8,677.0 552.4,677.6 552.8,678.0 C553.2,678.4 553.8,679.7 554.2,679.9 C554.6,680.1 555.2,679.6 555.6,679.8 C556.0,680.0 556.6,681.2 557.0,681.6 C557.4,682.0 558.0,682.8 558.4,683.1 C558.8,683.4 559.4,683.5 559.8,683.9 C560.2,684.3 560.8,685.2 561.2,685.9 C561.6,686.6 562.2,688.2 562.6,688.8 C563.0,689.4 563.6,689.8 564.0,690.2 C564.4,690.6 565.0,691.3 565.4,691.9 C565.8,692.5 566.4,694.1 566.8,694.4 C567.2,694.7 567.7,694.4 568.1,694.4 C568.5,694.4 569.1,694.0 569.5,694.1 C569.9,694.2 570.5,694.7 570.8,694.8 C571.1,694.9 571.8,694.6 572.1,694.7 C572.4,694.8 573.0,695.6 573.4,695.7 C573.8,695.8 574.4,695.8 574.8,695.8 C575.2,695.8 575.7,695.4 576.1,695.5 C576.5,695.6 577.1,696.1 577.5,696.2 C577.9,696.3 578.5,696.2 578.9,696.3 C579.3,696.4 579.9,697.1 580.3,697.3 C580.7,697.5 581.3,697.8 581.7,698.0 C582.1,698.2 582.7,699.1 583.1,699.1 C583.5,699.1 584.1,698.1 584.5,697.8 C584.9,697.5 585.5,696.9 585.9,696.8 C586.3,696.7 587.0,697.1 587.4,696.8 C587.8,696.5 588.4,695.1 588.8,694.8 C589.2,694.5 589.8,694.5 590.2,694.4 C590.6,694.3 591.1,693.9 591.5,694.1 C591.9,694.3 592.5,695.5 592.9,695.7 C593.3,695.9 593.9,695.4 594.2,695.5 C594.5,695.6 595.2,696.3 595.5,696.4 C595.8,696.5 596.4,695.8 596.8,695.9 C597.2,696.0 597.8,696.8 598.2,696.9 C598.6,697.0 599.1,696.9 599.5,696.7 C599.9,696.5 600.7,696.0 601.1,695.7 C601.5,695.4 602.2,695.1 602.6,694.8 C603.0,694.5 604.0,693.4 604.2,693.2" fill="none" stroke="#5a5a5a" stroke-width="2.8" stroke-linejoin="round"/>
<path d="M21.7,672.4 C21.9,672.4 22.7,672.2 23.1,672.2 C23.5,672.2 24.1,672.5 24.5,672.5 C24.9,672.5 25.5,672.4 25.9,672.4 C26.3,672.4 26.8,672.6 27.2,672.6 C27.6,672.6 28.2,672.7 28.6,672.7 C29.0,672.7 29.6,672.7 30.0,672.6 C30.4,672.5 31.0,672.3 31.4,672.2 C31.8,672.1 32.5,672.1 32.9,672.2 C33.3,672.3 33.9,673.0 34.3,673.0 C34.7,673.0 35.3,672.6 35.7,672.5 C36.1,672.4 36.7,672.4 37.1,672.5 C37.5,672.6 38.2,673.3 38.6,673.3 C39.0,673.3 39.6,672.9 40.0,672.8 C40.4,672.7 41.0,672.8 41.4,672.8 C41.8,672.8 42.4,673.1 42.8,673.1 C43.2,673.1 43.7,672.8 44.1,672.8 C44.5,672.8 45.2,672.3 45.5,672.8 C45.8,673.3 46.4,676.5 46.7,676.5 C47.0,676.5 47.5,673.4 47.8,673.0 C48.1,672.6 48.8,673.2 49.2,673.2 C49.6,673.2 50.3,672.7 50.7,672.7 C51.1,672.7 51.7,673.2 52.1,673.3 C52.5,673.4 53.2,673.5 53.6,673.5 C54.0,673.5 54.6,673.2 55.0,673.2 C55.4,673.2 56.0,673.2 56.4,673.2 C56.8,673.2 57.4,673.4 57.8,673.4 C58.2,673.4 58.8,673.5 59.2,673.4 C59.6,673.3 60.2,672.8 60.6,672.8 C61.0,672.8 61.6,673.1 62.0,673.2 C62.4,673.3 63.3,673.4 63.8,673.4 C64.3,673.4 65.2,672.7 65.5,673.0 C65.8,673.3 66.1,676.0 66.4,676.0 C66.7,676.0 67.2,673.6 67.5,673.2 C67.8,672.8 68.6,673.2 69.0,673.2 C69.4,673.2 70.1,672.9 70.5,672.9 C70.9,672.9 71.6,673.0 72.0,673.0 C72.4,673.0 73.0,672.6 73.4,672.6 C73.8,672.6 74.1,672.5 74.8,673.2 C75.5,673.9 77.7,676.4 78.5,677.8 C79.3,679.2 80.0,682.5 80.7,683.7 C81.4,684.9 82.5,684.4 83.7,686.6 C84.9,688.8 87.8,696.2 89.6,700.0 C91.4,703.8 95.0,710.9 97.0,714.8 C99.0,718.7 102.4,725.7 104.4,729.6 C106.4,733.5 109.8,740.9 111.8,744.4 C113.8,747.9 117.2,753.2 119.2,756.2 C121.2,759.2 124.6,764.3 126.6,766.6 C128.6,768.9 132.2,772.0 134.0,773.2 C135.8,774.4 138.7,775.5 140.0,775.6 C141.3,775.7 142.5,774.9 143.7,774.2 C144.9,773.5 147.3,771.5 149.3,770.5 C151.3,769.5 156.3,768.3 158.5,766.8 C160.7,765.3 164.0,761.2 165.9,758.9 C167.8,756.6 170.7,751.8 172.4,749.6 C174.1,747.4 177.3,744.3 178.9,742.2 C180.5,740.1 183.0,735.6 184.4,733.9 C185.8,732.2 188.1,729.7 189.1,729.3 C190.1,728.9 191.2,730.2 191.9,731.1 C192.6,732.0 193.5,735.1 194.6,735.7 C195.7,736.3 199.0,735.9 200.0,735.7 C201.0,735.5 201.2,735.5 201.9,734.1 C202.6,732.7 203.9,727.3 205.4,725.3 C206.9,723.3 211.7,721.1 213.3,719.2 C214.9,717.3 215.1,713.5 217.7,711.3 C220.3,709.1 230.4,703.8 232.6,702.6 C234.8,701.4 233.6,702.3 233.9,702.0 C234.2,701.7 234.9,700.5 235.2,700.1 C235.5,699.7 236.2,699.5 236.5,699.3 C236.8,699.1 237.4,698.7 237.8,698.4 C238.2,698.1 238.8,697.2 239.2,696.9 C239.6,696.6 240.2,696.4 240.5,696.0 C240.8,695.6 241.5,694.3 241.8,693.9 C242.1,693.5 242.6,692.7 243.1,692.9 C243.6,693.1 245.2,695.3 245.7,695.5 C246.2,695.7 246.7,695.1 247.0,694.7 C247.3,694.3 248.0,693.1 248.3,692.8 C248.6,692.5 249.3,692.6 249.6,692.3 C249.9,692.0 250.6,691.4 250.9,690.9 C251.2,690.4 251.8,688.8 252.2,688.3 C252.6,687.8 253.2,687.4 253.6,687.1 C254.0,686.8 254.6,686.1 254.9,685.9 C255.2,685.7 255.9,686.1 256.2,685.8 C256.5,685.5 257.2,684.1 257.5,683.6 C257.8,683.1 258.4,682.6 258.8,682.4 C259.2,682.2 259.8,682.1 260.2,681.9 C260.6,681.7 261.2,680.9 261.6,680.7 C262.0,680.5 262.6,680.5 263.0,680.3 C263.4,680.1 264.0,679.6 264.4,679.4 C264.8,679.2 265.5,678.8 265.9,678.7 C266.3,678.6 266.9,678.4 267.3,678.3 C267.7,678.2 268.3,677.7 268.7,677.6 C269.1,677.5 269.7,677.6 270.1,677.4 C270.5,677.2 271.1,676.7 271.5,676.4 C271.9,676.1 272.5,675.5 272.9,675.4 C273.3,675.3 273.9,675.7 274.3,675.7 C274.7,675.7 275.2,675.3 275.6,675.2 C276.0,675.1 276.6,675.1 277.0,675.0 C277.4,674.9 277.9,674.4 278.3,674.1 C278.7,673.8 279.3,673.0 279.7,672.9 C280.1,672.8 280.6,673.5 281.0,673.6 C281.4,673.7 282.0,673.5 282.4,673.4 C282.8,673.3 283.3,673.1 283.7,672.9 C284.1,672.7 284.7,672.1 285.1,671.9 C285.5,671.7 286.1,671.7 286.5,671.6 C286.9,671.5 287.5,671.6 287.8,671.4 C288.1,671.2 288.7,670.4 289.1,670.2 C289.5,670.0 290.1,670.1 290.5,670.2 C290.9,670.3 291.7,671.0 292.2,671.1 C292.7,671.2 293.5,670.7 294.0,671.0 C294.5,671.3 295.3,672.7 295.8,673.3 C296.3,673.9 297.0,674.4 297.5,675.4 C298.0,676.4 298.7,679.3 299.2,680.8 C299.7,682.3 300.6,686.8 301.0,686.8 C301.4,686.8 302.0,682.3 302.3,680.9 C302.6,679.5 303.2,676.5 303.6,676.3 C304.0,676.1 304.9,678.8 305.4,679.5 C305.9,680.2 306.7,681.8 307.2,681.6 C307.7,681.4 308.4,679.2 308.9,678.0 C309.4,676.8 310.3,673.6 310.7,672.8 C311.1,672.0 311.7,671.9 312.1,671.9 C312.5,671.9 313.1,672.8 313.5,672.8 C313.9,672.8 314.5,672.2 314.9,672.0 C315.3,671.8 316.0,671.4 316.4,671.3 C316.8,671.2 317.4,671.2 317.8,671.3 C318.2,671.4 318.8,671.8 319.2,671.9 C319.6,672.0 320.2,671.9 320.6,671.8 C321.0,671.7 321.6,671.1 322.0,671.0 C322.4,670.9 323.1,671.1 323.5,671.4 C323.9,671.7 324.5,673.1 324.9,673.5 C325.3,673.9 326.0,676.5 326.4,674.5 C326.8,672.5 327.4,662.6 327.7,658.5 C328.0,654.4 328.6,644.3 329.0,644.0 C329.4,643.7 330.3,654.1 330.8,656.3 C331.3,658.5 332.1,658.5 332.6,660.5 C333.1,662.5 333.9,669.3 334.3,671.0 C334.7,672.7 335.2,672.6 335.6,673.1 C336.0,673.6 336.6,674.6 337.0,674.5 C337.4,674.4 338.2,673.0 338.7,672.5 C339.2,672.0 340.0,670.8 340.4,671.0 C340.8,671.2 341.4,673.6 341.7,674.3 C342.0,675.0 342.6,675.6 343.0,676.3 C343.4,677.0 344.3,678.7 344.8,679.3 C345.3,679.9 346.0,682.3 346.6,680.7 C347.2,679.1 348.6,669.3 349.2,667.5 C349.8,665.7 350.4,667.2 350.9,667.1 C351.4,667.0 352.3,666.4 352.7,666.7 C353.1,667.0 353.7,669.0 354.0,669.6 C354.3,670.2 355.0,670.2 355.3,671.0 C355.6,671.8 356.2,674.2 356.6,675.5 C357.0,676.8 357.6,682.5 358.0,680.7 C358.4,678.9 359.3,664.6 359.7,662.3 C360.1,660.0 360.8,663.1 361.2,663.7 C361.6,664.3 362.2,665.9 362.6,666.5 C363.0,667.1 363.7,668.1 364.1,668.4 C364.5,668.7 365.4,668.7 365.9,669.0 C366.4,669.3 367.2,670.8 367.6,671.0 C368.0,671.2 368.5,670.5 368.9,670.4 C369.3,670.3 369.9,670.5 370.3,670.6 C370.7,670.7 371.2,670.9 371.6,670.8 C372.0,670.7 372.6,670.1 373.0,669.9 C373.4,669.7 373.9,669.5 374.3,669.6 C374.7,669.7 375.3,670.8 375.7,670.8 C376.1,670.8 376.6,669.8 377.0,669.8 C377.4,669.8 378.0,670.6 378.4,670.7 C378.8,670.8 379.3,670.7 379.7,670.5 C380.1,670.3 380.7,669.6 381.1,669.5 C381.5,669.4 382.0,669.5 382.4,669.5 C382.8,669.5 383.4,669.5 383.8,669.5 C384.2,669.5 384.7,669.2 385.1,669.3 C385.5,669.4 386.4,670.2 386.9,670.4 C387.4,670.6 388.1,670.5 388.6,671.0 C389.1,671.5 389.9,673.1 390.4,673.8 C390.9,674.5 391.7,675.4 392.1,676.3 C392.5,677.2 392.5,678.9 393.4,680.7 C394.3,682.5 397.7,686.3 398.8,690.0 C399.9,693.7 401.1,703.6 401.8,708.1 C402.5,712.6 403.4,718.9 404.2,723.7 C405.0,728.5 406.9,739.1 407.9,744.2 C408.9,749.3 410.6,758.2 411.5,762.2 C412.4,766.2 413.7,774.3 414.5,774.3 C415.3,774.3 416.6,766.2 417.5,762.2 C418.4,758.2 420.1,748.8 421.1,744.2 C422.1,739.6 423.9,730.1 424.7,727.4 C425.5,724.7 426.3,724.3 427.1,724.3 C427.9,724.3 429.9,728.0 430.7,727.4 C431.5,726.8 432.5,722.0 433.1,720.1 C433.7,718.2 434.7,714.8 435.5,712.9 C436.3,711.0 438.0,706.7 439.1,705.7 C440.2,704.7 443.1,705.6 443.9,705.7 C444.7,705.8 444.6,707.4 445.3,706.8 C446.0,706.2 448.0,701.1 449.2,700.9 C450.4,700.7 452.9,706.3 454.5,705.5 C456.1,704.7 459.3,696.8 461.0,695.0 C462.7,693.2 466.1,692.3 467.6,692.3 C469.1,692.3 471.1,693.4 472.2,695.0 C473.3,696.6 475.1,700.9 476.1,704.2 C477.1,707.5 478.5,716.6 479.4,719.9 C480.3,723.2 481.8,728.7 482.7,729.1 C483.6,729.5 485.1,725.9 486.0,722.6 C486.9,719.3 488.3,707.3 489.3,704.2 C490.3,701.1 492.2,699.6 493.2,699.6 C494.2,699.6 495.6,701.8 496.5,704.2 C497.4,706.6 498.8,713.6 499.8,717.3 C500.8,721.0 502.6,728.1 503.7,731.8 C504.8,735.5 506.6,741.9 507.7,744.9 C508.8,747.9 510.6,754.3 511.6,754.1 C512.6,753.9 513.9,747.1 514.9,743.6 C515.9,740.1 517.6,731.0 518.8,727.8 C520.0,724.6 523.0,721.9 524.1,719.9 C525.2,717.9 526.1,714.2 527.1,713.1 C528.1,712.0 531.0,712.3 531.8,711.9 C532.6,711.5 532.9,710.5 533.3,710.0 C533.7,709.5 534.5,708.7 534.9,708.2 C535.3,707.7 536.0,706.5 536.4,706.1 C536.8,705.7 537.6,705.5 538.1,705.0 C538.6,704.5 539.4,702.4 539.9,702.6 C540.4,702.8 541.1,705.6 541.6,706.7 C542.1,707.8 542.9,710.6 543.4,710.7 C543.9,710.8 544.6,708.0 545.0,707.1 C545.4,706.2 546.1,704.9 546.5,704.0 C546.9,703.1 547.7,700.8 548.1,700.2 C548.5,699.6 549.3,699.8 549.7,699.8 C550.1,699.8 550.8,699.8 551.2,699.9 C551.6,700.0 552.4,700.3 552.8,700.2 C553.2,700.1 553.8,699.9 554.2,699.5 C554.6,699.1 555.2,697.9 555.6,697.4 C556.0,696.9 556.6,696.6 557.0,696.1 C557.4,695.6 558.0,694.3 558.4,693.9 C558.8,693.5 559.4,693.5 559.8,693.2 C560.2,692.9 561.0,691.9 561.4,691.5 C561.8,691.1 562.5,690.6 562.9,690.2 C563.3,689.8 564.1,688.8 564.5,688.5 C564.9,688.2 565.4,687.9 565.8,688.0 C566.2,688.1 566.8,688.8 567.2,689.0 C567.6,689.2 568.2,689.3 568.5,689.2 C568.8,689.1 569.5,688.6 569.8,688.6 C570.1,688.6 570.7,689.4 571.1,689.5 C571.5,689.6 572.1,689.5 572.5,689.5 C572.9,689.5 573.4,689.6 573.8,689.7 C574.2,689.8 574.8,690.2 575.2,690.2 C575.6,690.2 576.2,689.9 576.6,690.0 C577.0,690.1 577.6,690.6 578.0,690.7 C578.4,690.8 579.0,691.0 579.4,691.0 C579.8,691.0 580.4,691.1 580.8,690.9 C581.2,690.7 581.7,689.9 582.1,689.6 C582.5,689.3 583.1,689.0 583.5,688.9 C583.9,688.8 584.4,689.1 584.8,689.1 C585.2,689.1 585.8,689.2 586.2,688.9 C586.6,688.6 587.1,687.5 587.5,687.2 C587.9,686.9 588.5,686.9 588.9,686.8 C589.3,686.7 589.9,686.1 590.2,686.2 C590.5,686.3 591.1,687.4 591.5,687.8 C591.9,688.2 592.5,688.5 592.9,688.9 C593.3,689.3 593.9,690.1 594.2,690.5 C594.5,690.9 595.2,691.5 595.5,691.9 C595.8,692.3 596.4,693.0 596.8,693.5 C597.2,694.0 597.8,694.9 598.2,695.3 C598.6,695.7 599.1,696.9 599.5,696.7 C599.9,696.5 600.7,694.7 601.1,694.1 C601.5,693.5 602.2,692.5 602.6,691.9 C603.0,691.3 604.0,690.0 604.2,689.7" fill="none" stroke="#6e6e6e" stroke-width="2.8" stroke-linejoin="round"/>
<line x1="140.3" y1="635" x2="140.3" y2="810" stroke="#2a2a2a" stroke-width="1.8" stroke-dasharray="5.5,4.5"/>
<line x1="204.4" y1="634" x2="204.4" y2="845" stroke="#2a2a2a" stroke-width="1.8" stroke-dasharray="5.5,4.5"/>
<line x1="215.3" y1="670" x2="215.3" y2="811" stroke="#2a2a2a" stroke-width="1.8" stroke-dasharray="5.5,4.5"/>
<line x1="400.2" y1="639" x2="400.2" y2="775" stroke="#2a2a2a" stroke-width="1.8" stroke-dasharray="5.5,4.5"/>
<line x1="422" y1="645" x2="422" y2="782" stroke="#2a2a2a" stroke-width="1.8" stroke-dasharray="5.5,4.5"/>
<line x1="500" y1="616" x2="500" y2="752" stroke="#2a2a2a" stroke-width="1.8" stroke-dasharray="5.5,4.5"/>
<line x1="510.3" y1="677" x2="510.3" y2="775" stroke="#2a2a2a" stroke-width="1.8" stroke-dasharray="5.5,4.5"/>
<line x1="521.7" y1="637" x2="521.7" y2="779" stroke="#2a2a2a" stroke-width="1.8" stroke-dasharray="5.5,4.5"/>
<line x1="143.5" y1="773" x2="143.5" y2="833" stroke="#2e2e2e" stroke-width="1.8"/>
<line x1="415.4" y1="773" x2="415.4" y2="810" stroke="#2e2e2e" stroke-width="1.8"/>
<line x1="513" y1="753" x2="513" y2="809" stroke="#2e2e2e" stroke-width="1.8"/>
<text transform="translate(146.09,630.30) rotate(-90)" class="lbr" textLength="46.04" lengthAdjust="spacingAndGlyphs">3334.8</text>
<text transform="translate(210.84,631.05) rotate(-90)" class="lbr" textLength="46.80" lengthAdjust="spacingAndGlyphs">2922.0</text>
<text transform="translate(223.44,667.05) rotate(-90)" class="lbr" textLength="46.81" lengthAdjust="spacingAndGlyphs">2852.3</text>
<text transform="translate(406.80,635.95) rotate(-90)" class="lbr" textLength="48.56" lengthAdjust="spacingAndGlyphs">1742.7</text>
<text transform="translate(426.64,635.92) rotate(-90)" class="lbr" textLength="47.53" lengthAdjust="spacingAndGlyphs">1611.9</text>
<text transform="translate(503.14,612.52) rotate(-90)" class="lbr" textLength="44.39" lengthAdjust="spacingAndGlyphs">1156.1</text>
<text transform="translate(516.05,673.44) rotate(-90)" class="lbr" textLength="53.16" lengthAdjust="spacingAndGlyphs">1071.10</text>
<text transform="translate(529.95,633.63) rotate(-90)" class="lbr" textLength="44.89" lengthAdjust="spacingAndGlyphs">1026.4</text>
<text transform="translate(150.19,878.51) rotate(-90)" class="lbr" textLength="46.47" lengthAdjust="spacingAndGlyphs">3286.5</text>
<text transform="translate(421.30,854.97) rotate(-90)" class="lbr" textLength="46.13" lengthAdjust="spacingAndGlyphs">1644.5</text>
<text transform="translate(520.00,853.56) rotate(-90)" class="lbr" textLength="45.74" lengthAdjust="spacingAndGlyphs">1055.9</text>
<text x="235.4" y="965.5" class="ttl" textLength="157" lengthAdjust="spacingAndGlyphs">Wavenumbers (cm<tspan dy="-6" font-size="11">-1</tspan><tspan dy="6">)</tspan></text>
<line x1="183.7" y1="1011.6" x2="222.2" y2="1011.6" stroke="#5a5a5a" stroke-width="2.8"/>
<text x="226.8" y="1016.8" class="leg" textLength="102.4" lengthAdjust="spacingAndGlyphs">BS OMW PBS</text>
<line x1="355.5" y1="1011.3" x2="394.1" y2="1011.3" stroke="#6e6e6e" stroke-width="2.8"/>
<text x="397.6" y="1016.8" class="leg" textLength="108.6" lengthAdjust="spacingAndGlyphs">BS-L-Pentosus</text>
<text x="327.8" y="1069.8" class="cap" textLength="26.5" lengthAdjust="spacingAndGlyphs">(<tspan font-weight="bold">b</tspan>)</text>
</svg></body></html>
